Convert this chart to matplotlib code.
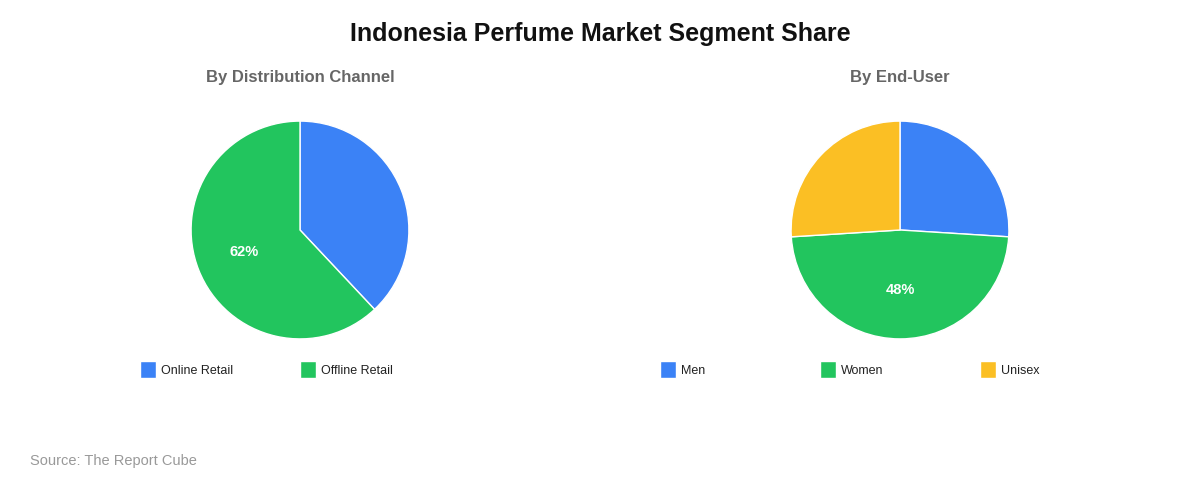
import matplotlib
matplotlib.use("Agg")
import matplotlib.pyplot as plt

plt.rcParams['font.family'] = ['Liberation Sans', 'DejaVu Sans']

# Data
channel_labels = ["Online Retail", "Offline Retail"]
channel_values = [38, 62]
channel_colors = ["#3B82F6", "#22C55E"]

enduser_labels = ["Men", "Women", "Unisex"]
enduser_values = [26, 48, 26]
enduser_colors = ["#3B82F6", "#22C55E", "#FBBF24"]

title = "Indonesia Perfume Market Segment Share"
subtitles = ["By Distribution Channel", "By End-User"]
source = "Source: The Report Cube"

W, H = 1200, 480
fig = plt.figure(figsize=(W / 100, H / 100), dpi=100)
fig.patch.set_facecolor("white")


def px_axes(cx, cy, r):
    return fig.add_axes([(cx - r) / W, (H - cy - r) / H, 2 * r / W, 2 * r / H])


def draw_pie(ax, values, colors):
    vmax = max(values)
    wedges, texts, autotexts = ax.pie(
        values, colors=colors, startangle=90, counterclock=False,
        radius=1.0, pctdistance=0.55,
        autopct=lambda p: f"{p:.0f}%" if round(p) == vmax else "",
        wedgeprops=dict(edgecolor="white", linewidth=1),
        textprops=dict(color="white", fontsize=10.5, fontweight="bold"),
    )
    ax.set_xlim(-1.01, 1.01)
    ax.set_ylim(-1.01, 1.01)
    ax.set_aspect("equal")
    ax.axis("off")
    return wedges


ax1 = px_axes(300, 230, 110)
w1 = draw_pie(ax1, channel_values, channel_colors)
ax2 = px_axes(900, 230, 110)
w2 = draw_pie(ax2, enduser_values, enduser_colors)

fig.text(0.5, 1 - 34 / H, title, ha="center", va="center",
         fontsize=18, fontweight="bold", color="#111111")
fig.text(300 / W, 1 - 77.5 / H, subtitles[0], ha="center", va="center",
         fontsize=12, fontweight="bold", color="#666666")
fig.text(900 / W, 1 - 77.5 / H, subtitles[1], ha="center", va="center",
         fontsize=12, fontweight="bold", color="#666666")
fig.text(30 / W, 1 - 461 / H, source, ha="left", va="center",
         fontsize=10.5, color="#999999")


def draw_legend(wedges, labels, x0):
    for i, (w, lab) in enumerate(zip(wedges, labels)):
        fig.legend([w], [lab], loc="center left",
                   bbox_to_anchor=((x0 + 160 * i) / W, 1 - 369.5 / H),
                   frameon=False, fontsize=9, handlelength=1.25,
                   handleheight=1.6, handletextpad=0.4,
                   borderpad=0, borderaxespad=0, labelcolor="#222222")


draw_legend(w1, channel_labels, 140)
draw_legend(w2, enduser_labels, 660)

fig.savefig("out.png", dpi=100, facecolor="white")
